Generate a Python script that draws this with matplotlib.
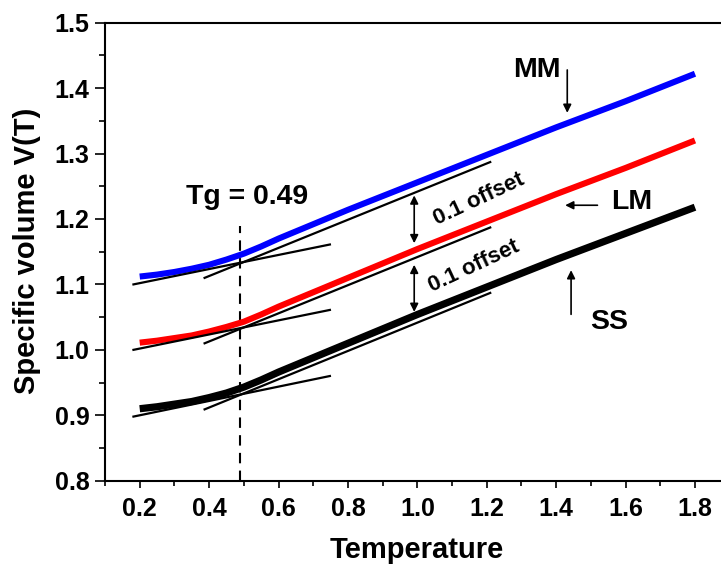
# Specific volume V(T) vs temperature for SS, LM and MM samples
# curves offset by 0.1 each, with glassy / liquid tangent lines meeting at Tg

import numpy as np
import matplotlib.pyplot as plt

plt.rcParams['font.family'] = ['Liberation Sans', 'DejaVu Sans']
plt.rcParams['font.weight'] = 'bold'

temp = [0.2, 0.25, 0.3, 0.35, 0.4, 0.45, 0.5, 0.55, 0.6, 0.65, 0.7, 0.8,
        1.0, 1.2, 1.4, 1.6, 1.8]
vol_ss = [0.910, 0.913, 0.917, 0.921, 0.927, 0.934, 0.943, 0.954, 0.966, 0.977,
          0.988, 1.010, 1.054, 1.096, 1.138, 1.178, 1.218]
vol_lm = [1.011, 1.014, 1.018, 1.022, 1.028, 1.035, 1.043, 1.054, 1.066, 1.077,
          1.088, 1.110, 1.154, 1.196, 1.238, 1.278, 1.320]
vol_mm = [1.112, 1.115, 1.119, 1.124, 1.130, 1.138, 1.147, 1.158, 1.170, 1.181,
          1.192, 1.214, 1.256, 1.298, 1.340, 1.380, 1.422]

# tangent lines: (T start, T end), (V start, V end)
glass_T = [0.182, 0.748]
liquid_T = [0.387, 1.21]
glass_V = {'SS': [0.898, 0.960], 'LM': [1.000, 1.061], 'MM': [1.100, 1.161]}
liquid_V = {'SS': [0.909, 1.087], 'LM': [1.010, 1.187], 'MM': [1.110, 1.287]}

tg = 0.49

fig = plt.figure(figsize=(7.21, 5.66), dpi=100)
ax = fig.add_axes([105 / 721, 85.3 / 566, 616 / 721, 458 / 566])

ax.plot(temp, vol_ss, color='black', lw=5.2, solid_capstyle='butt', zorder=2)
ax.plot(temp, vol_lm, color='#ff0000', lw=4.4, solid_capstyle='butt', zorder=2)
ax.plot(temp, vol_mm, color='#0000ff', lw=4.4, solid_capstyle='butt', zorder=2)

for k in ['SS', 'LM', 'MM']:
    ax.plot(glass_T, glass_V[k], color='black', lw=1.6, zorder=3)
    ax.plot(liquid_T, liquid_V[k], color='black', lw=1.6, zorder=3)

ax.plot([tg, tg], [0.8, 1.19], color='black', lw=1.5, ls=(0, (5, 3.5)), zorder=1)
ax.text(0.508, 1.233, 'Tg = 0.49', fontsize=20.5, ha='center', va='center')

# sample labels with arrows
arr = dict(arrowstyle='-|>', color='black', lw=1.2, mutation_scale=12)
ax.text(1.345, 1.428, 'MM', fontsize=20.5, ha='center', va='center')
ax.annotate('', xy=(1.432, 1.358), xytext=(1.432, 1.432), arrowprops=arr)
ax.text(1.619, 1.226, 'LM', fontsize=20.5, ha='center', va='center')
ax.annotate('', xy=(1.418, 1.221), xytext=(1.527, 1.221), arrowprops=arr)
ax.text(1.553, 1.043, 'SS', fontsize=20.5, ha='center', va='center')
ax.annotate('', xy=(1.443, 1.126), xytext=(1.443, 1.050), arrowprops=arr)

# offset markers
darr = dict(arrowstyle='<|-|>', color='black', lw=1.2, mutation_scale=12,
            shrinkA=0, shrinkB=0)
ax.annotate('', xy=(0.991, 1.236), xytext=(0.991, 1.163), arrowprops=darr)
ax.annotate('', xy=(0.991, 1.130), xytext=(0.991, 1.058), arrowprops=darr)
ax.text(1.179, 1.230, '0.1 offset', fontsize=16, ha='center', va='center',
        rotation=25, rotation_mode='anchor')
ax.text(1.162, 1.128, '0.1 offset', fontsize=16, ha='center', va='center',
        rotation=25, rotation_mode='anchor')

ax.set_xlim(0.1, 1.875)
ax.set_ylim(0.8, 1.5)
ax.set_xticks(np.arange(0.2, 1.81, 0.2))
ax.set_xticks(np.arange(0.1, 1.85, 0.1), minor=True)
ax.set_yticks(np.arange(0.8, 1.51, 0.1))
ax.set_yticks(np.arange(0.8, 1.51, 0.05), minor=True)
ax.xaxis.set_major_formatter(plt.FormatStrFormatter('%.1f'))
ax.yaxis.set_major_formatter(plt.FormatStrFormatter('%.1f'))
ax.tick_params(which='major', direction='out', length=7, width=1.2, labelsize=18, pad=4)
ax.tick_params(which='minor', direction='out', length=4, width=1.2)
ax.tick_params(axis='x', which='major', length=5, pad=7)
ax.tick_params(axis='x', which='minor', length=3.5)
ax.spines['right'].set_visible(False)
for s in ['left', 'bottom', 'top']:
    ax.spines[s].set_linewidth(1.5)

ax.set_xlabel('Temperature', fontsize=21, fontweight='bold')
ax.set_ylabel('Specific volume V(T)', fontsize=21, fontweight='bold')
ax.xaxis.set_label_coords(0.506, -0.12)
ax.yaxis.set_label_coords(-0.104, 0.503)

fig.savefig('out.png', dpi=100)
